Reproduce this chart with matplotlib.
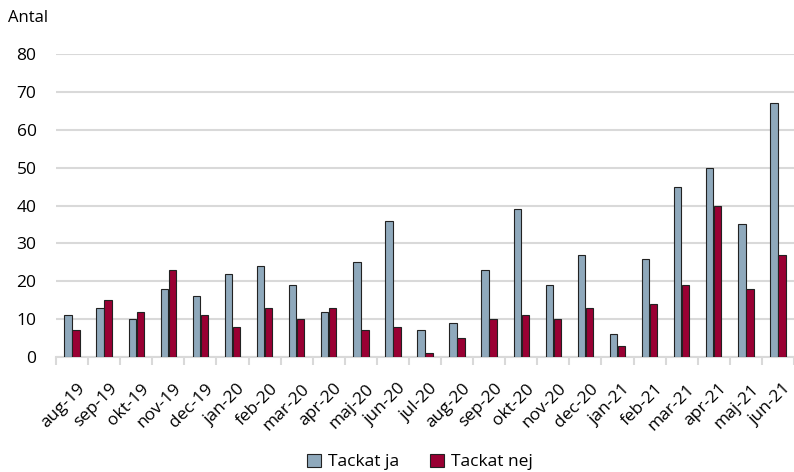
import numpy as np
import matplotlib
matplotlib.use("Agg")
import matplotlib.pyplot as plt
import matplotlib.transforms as mtransforms

months = ["aug-19", "sep-19", "okt-19", "nov-19", "dec-19", "jan-20", "feb-20",
          "mar-20", "apr-20", "maj-20", "jun-20", "jul-20", "aug-20", "sep-20",
          "okt-20", "nov-20", "dec-20", "jan-21", "feb-21", "mar-21", "apr-21",
          "maj-21", "jun-21"]
tackat_ja = [11, 13, 10, 18, 16, 22, 24, 19, 12, 25, 36, 7, 9, 23, 39, 19, 27,
             6, 26, 45, 50, 35, 67]
tackat_nej = [7, 15, 12, 23, 11, 8, 13, 10, 13, 7, 8, 1, 5, 10, 11, 10, 13,
              3, 14, 19, 40, 18, 27]

plt.rcParams["font.family"] = ["Open Sans", "DejaVu Sans"]

fig = plt.figure(figsize=(7.94, 4.72), dpi=100)
ax = fig.add_axes([56 / 794, 1 - 357 / 472, 738 / 794, 303 / 472])

x = np.arange(len(months))
w = 0.23
ax.bar(x - 0.125, tackat_ja, w, color="#8FA9BC", edgecolor="#222222",
       linewidth=0.8, label="Tackat ja", zorder=3)
ax.bar(x + 0.125, tackat_nej, w, color="#990033", edgecolor="#222222",
       linewidth=0.8, label="Tackat nej", zorder=3)

ax.set_xlim(-0.5, len(months) - 0.5)
ax.set_ylim(0, 80)
ax.set_yticks(range(0, 81, 10))
ax.yaxis.grid(True, color="#D9D9D9", linewidth=1.5, zorder=0)
ax.tick_params(axis="y", length=0, labelsize=12.5, pad=14)

# category labels centred, tick marks on the category boundaries
ax.set_xticks(x)
ax.set_xticklabels(months, rotation=45, ha="right", rotation_mode="anchor",
                   fontsize=12.5)
ax.tick_params(axis="x", which="major", length=0, pad=17)
shift = mtransforms.ScaledTranslation(5 / 100, 0, fig.dpi_scale_trans)
for lbl in ax.get_xticklabels():
    lbl.set_transform(lbl.get_transform() + shift)
ax.set_xticks(np.arange(-0.5, len(months), 1), minor=True)
ax.tick_params(axis="x", which="minor", length=6, color="#D9D9D9", width=1.5)

for side in ("top", "right", "left"):
    ax.spines[side].set_visible(False)
ax.spines["bottom"].set_color("#D9D9D9")
ax.spines["bottom"].set_linewidth(1.5)

fig.text(8 / 794, 1 - 18 / 472, "Antal", fontsize=12, va="center", ha="left")

fig.legend(loc="center", bbox_to_anchor=(420 / 794, 1 - 462 / 472), ncol=2,
           frameon=False, fontsize=12.5, handlelength=0.8, handleheight=0.8,
           columnspacing=1.8, handletextpad=0.4)

fig.savefig("out.png", dpi=100)
